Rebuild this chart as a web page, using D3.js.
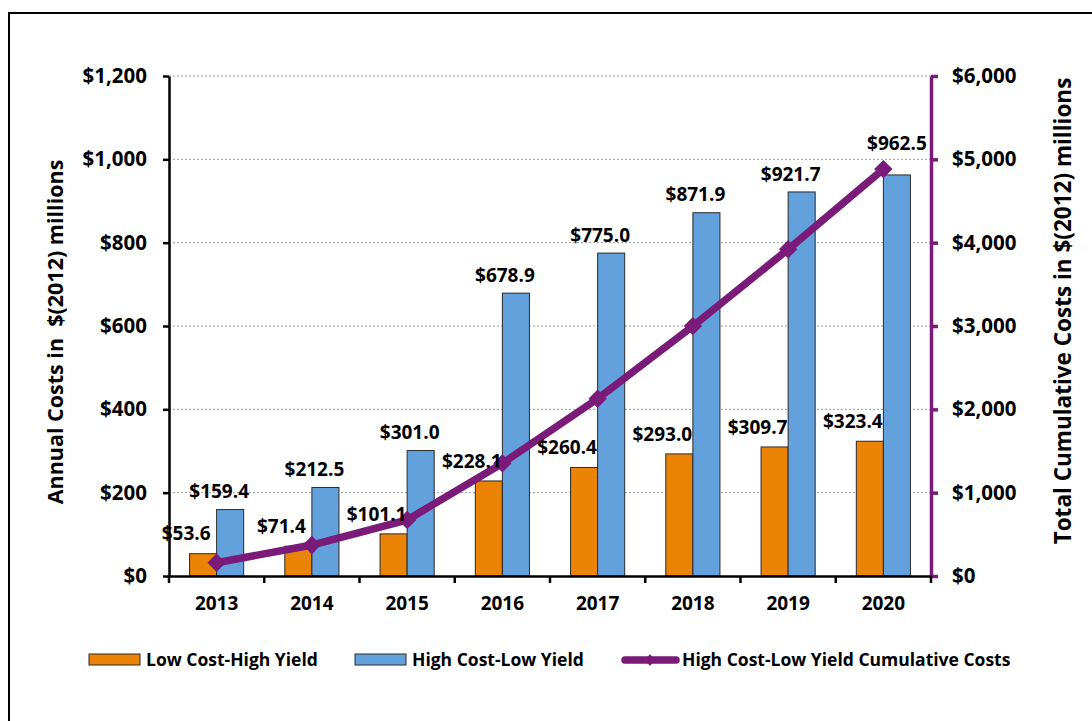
<!DOCTYPE html>
<html>
<head>
<meta charset="utf-8">
<script src="https://cdn.jsdelivr.net/npm/d3@7"></script>
<style>
    body { margin: 0; background: #fff; }
    svg { display: block; font-family: "Open Sans", Lato, sans-serif; font-weight: bold; }
</style>
</head>
<body>
<svg width="1092" height="721"></svg>
<script>
// chart values
const years = ["2013", "2014", "2015", "2016", "2017", "2018", "2019", "2020"];
const lowCostHighYield = [53.6, 71.4, 101.1, 228.1, 260.4, 293.0, 309.7, 323.4];
const highCostLowYield = [159.4, 212.5, 301.0, 678.9, 775.0, 871.9, 921.7, 962.5];
const highCostCumulative = [159.4, 371.9, 672.9, 1351.8, 2126.8, 2998.7, 3920.4, 4882.9];
const leftTicks = [0, 200, 400, 600, 800, 1000, 1200];
const rightTicks = [0, 1000, 2000, 3000, 4000, 5000, 6000];

const orange = "#EA8306";
const blue = "#63A1DC";
const purple = "#7B1B79";
const font = "'Open Sans', Lato, sans-serif";

let svg = d3.select("svg");

// outer frame (only top and left edges show in the picture)
svg.append("rect")
    .attr("x", 9).attr("y", 13)
    .attr("width", 1200).attr("height", 800)
    .attr("fill", "none")
    .attr("stroke", "#000")
    .attr("stroke-width", 2);

let x = d3.scaleBand()
    .domain(years)
    .range([169, 931]);

let sub = d3.scaleBand()
    .domain(["low", "high"])
    .range([0, x.bandwidth()])
    .paddingOuter(0.76);

let yL = d3.scaleLinear().domain([0, 1200]).range([576, 76]);
let yR = d3.scaleLinear().domain([0, 6000]).range([576, 76]);

let money = d => "$" + d3.format(",")(d);

// dotted gridlines
svg.append("g")
    .selectAll("line")
    .data(leftTicks.slice(1))
    .enter()
    .append("line")
    .attr("x1", 169).attr("x2", 931)
    .attr("y1", d => yL(d)).attr("y2", d => yL(d))
    .attr("stroke", "#9a9a9a")
    .attr("stroke-dasharray", "2,2");

// bars
let rows = years.map((yr, i) => ({ year: yr, low: lowCostHighYield[i], high: highCostLowYield[i], cum: highCostCumulative[i] }));

let groups = svg.append("g")
    .selectAll("g")
    .data(rows)
    .enter()
    .append("g")
    .attr("transform", d => `translate(${x(d.year)},0)`);

groups.append("rect")
    .attr("x", sub("low"))
    .attr("width", sub.bandwidth())
    .attr("y", d => yL(d.low))
    .attr("height", d => yL(0) - yL(d.low))
    .attr("fill", orange)
    .attr("stroke", "#2a2a2a")
    .attr("stroke-width", 1);

groups.append("rect")
    .attr("x", sub("high"))
    .attr("width", sub.bandwidth())
    .attr("y", d => yL(d.high))
    .attr("height", d => yL(0) - yL(d.high))
    .attr("fill", blue)
    .attr("stroke", "#2a2a2a")
    .attr("stroke-width", 1);

// axes
let axisL = svg.append("g")
    .attr("transform", "translate(169,0)")
    .call(d3.axisLeft(yL).tickValues(leftTicks).tickFormat(money).tickSize(6).tickPadding(16).tickSizeOuter(0));
axisL.select(".domain").attr("stroke", "#000").attr("stroke-width", 2.5);
axisL.selectAll(".tick line").attr("stroke", "#000").attr("stroke-width", 2.5);
axisL.selectAll("text").attr("font-size", 20.5).attr("font-family", font).attr("font-weight", "bold").attr("fill", "#000");

let axisR = svg.append("g")
    .attr("transform", "translate(931,0)")
    .call(d3.axisRight(yR).tickValues(rightTicks).tickFormat(money).tickSize(7).tickPadding(14).tickSizeOuter(0));
axisR.select(".domain").attr("stroke", purple).attr("stroke-width", 3.5);
axisR.selectAll(".tick line").attr("stroke", purple).attr("stroke-width", 3.5);
axisR.selectAll("text").attr("font-size", 20.5).attr("font-family", font).attr("font-weight", "bold").attr("fill", "#000");

let axisB = svg.append("g")
    .attr("transform", "translate(0,576)")
    .call(d3.axisBottom(x).tickSize(0).tickPadding(21));
axisB.select(".domain").attr("stroke", "#000").attr("stroke-width", 2.5);
axisB.selectAll("text").attr("font-size", 19).attr("font-family", font).attr("font-weight", "bold").attr("fill", "#000");
// category separator ticks
svg.append("g")
    .selectAll("line")
    .data(years.concat(["end"]))
    .enter()
    .append("line")
    .attr("x1", d => d == "end" ? 931 : x(d))
    .attr("x2", d => d == "end" ? 931 : x(d))
    .attr("y1", 576).attr("y2", 583)
    .attr("stroke", "#000")
    .attr("stroke-width", 2.5);

// cumulative line
let cx = d => x(d.year) + x.bandwidth() / 2;
let line = d3.line().x(cx).y(d => yR(d.cum));

svg.append("path")
    .datum(rows)
    .attr("d", line)
    .attr("fill", "none")
    .attr("stroke", purple)
    .attr("stroke-width", 7.5);

svg.append("g")
    .selectAll("rect")
    .data(rows)
    .enter()
    .append("rect")
    .attr("x", -6.5).attr("y", -6.5)
    .attr("width", 13).attr("height", 13)
    .attr("fill", purple)
    .attr("transform", d => `translate(${cx(d)},${yR(d.cum)}) rotate(45)`);

// data labels
let labels = svg.append("g")
    .attr("font-size", 19)
    .attr("text-anchor", "middle")
    .attr("fill", "#000");

rows.forEach(d => {
    let lx = x(d.year) + sub("low") + sub.bandwidth() / 2 - 17;
    labels.append("text")
        .attr("x", lx)
        .attr("y", yL(d.low) - 20)
        .attr("dy", "0.35em")
        .text("$" + d.low.toFixed(1));

    let hx = x(d.year) + sub("high") + sub.bandwidth() / 2 - 11;
    let hy = yL(d.high) - 18;
    // lift the label clear of the line marker when they meet
    if (Math.abs(cx(d) - hx) < 22 && Math.abs(yR(d.cum) - hy) < 20) {
        hx = x(d.year) + sub("high") + sub.bandwidth() / 2;
        hy = yR(d.cum) - 26;
    }
    labels.append("text")
        .attr("x", hx)
        .attr("y", hy)
        .attr("dy", "0.35em")
        .text("$" + d.high.toFixed(1));
});

// axis titles
svg.append("text")
    .attr("transform", "translate(55,332) rotate(-90)")
    .attr("text-anchor", "middle")
    .attr("dy", "0.35em")
    .attr("font-size", 21.5)
    .style("white-space", "pre")
    .text("Annual Costs in  $(2012) millions");

svg.append("text")
    .attr("transform", "translate(1063,311) rotate(-90)")
    .attr("text-anchor", "middle")
    .attr("dy", "0.35em")
    .attr("font-size", 22.5)
    .text("Total Cumulative Costs in $(2012) millions");

// legend
let legend = svg.append("g").attr("font-size", 17.5);

legend.append("rect")
    .attr("x", 89).attr("y", 654).attr("width", 51).attr("height", 11)
    .attr("fill", orange).attr("stroke", "#2a2a2a");
legend.append("text").attr("x", 146).attr("y", 660).attr("dy", "0.35em").text("Low Cost-High Yield");

legend.append("rect")
    .attr("x", 355).attr("y", 654).attr("width", 51).attr("height", 11)
    .attr("fill", blue).attr("stroke", "#2a2a2a");
legend.append("text").attr("x", 412).attr("y", 660).attr("dy", "0.35em").text("High Cost-Low Yield");

legend.append("line")
    .attr("x1", 625).attr("x2", 676).attr("y1", 660).attr("y2", 660)
    .attr("stroke", purple).attr("stroke-width", 7.5).attr("stroke-linecap", "round");
legend.append("rect")
    .attr("x", -4).attr("y", -4).attr("width", 8).attr("height", 8)
    .attr("fill", purple)
    .attr("transform", "translate(650,660) rotate(45)");
legend.append("text").attr("x", 682).attr("y", 660).attr("dy", "0.35em").text("High Cost-Low Yield Cumulative Costs");
</script>
</body>
</html>
